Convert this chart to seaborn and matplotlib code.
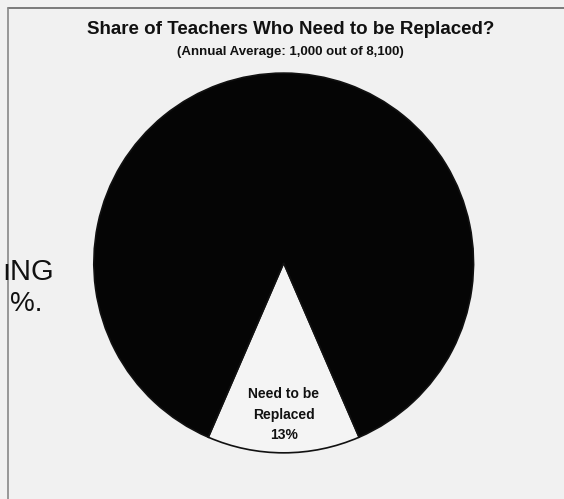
import matplotlib.pyplot as plt
import seaborn as sns
from matplotlib.lines import Line2D

# data
labels = ['Need to be\nReplaced\n13%', '']
shares = [13, 87]
colors = ['#f4f4f4', '#050505']

title = 'Share of Teachers Who Need to be Replaced?'
subtitle = '(Annual Average: 1,000 out of 8,100)'

sns.set_theme(style='white')
plt.rcParams['font.family'] = ['Liberation Sans', 'DejaVu Sans']

fig = plt.figure(figsize=(5.64, 4.99), dpi=100)
fig.patch.set_facecolor('#f1f1f1')
ax = fig.add_axes([0.163, 0.078, 0.68, 0.79])
ax.set_facecolor('#f1f1f1')

# small wedge centred on the bottom of the circle
start = 270 - shares[0] / sum(shares) * 360 / 2
wedges, texts = ax.pie(shares, labels=labels, colors=colors, startangle=start,
                       labeldistance=0.8, counterclock=True,
                       wedgeprops=dict(edgecolor='#111111', linewidth=1.2),
                       textprops=dict(fontsize=10, fontweight='bold', color='#111111',
                                      ha='center', va='center', linespacing=1.6))
ax.set_xlim(-1.01, 1.01)
ax.set_ylim(-1.01, 1.01)
ax.set_aspect('equal')

fig.text(0.515, 0.94, title, ha='center', va='center', fontsize=13.5,
         fontweight='bold', color='#111111')
fig.text(0.515, 0.895, subtitle, ha='center', va='center', fontsize=9.5,
         fontweight='bold', color='#111111')

# scan frame and stray handwriting at left edge
fig.add_artist(Line2D([0.014, 1.0], [0.984, 0.984], color='#666666', lw=1.2))
fig.add_artist(Line2D([0.014, 0.014], [0.0, 0.984], color='#888888', lw=1.2))
fig.text(0.004, 0.455, 'ıNG', fontsize=21, color='#111111', ha='left', va='center')
fig.text(0.018, 0.39, '%.', fontsize=20, color='#111111', ha='left', va='center')

plt.savefig('out.png', dpi=100, facecolor=fig.get_facecolor())
plt.close()
